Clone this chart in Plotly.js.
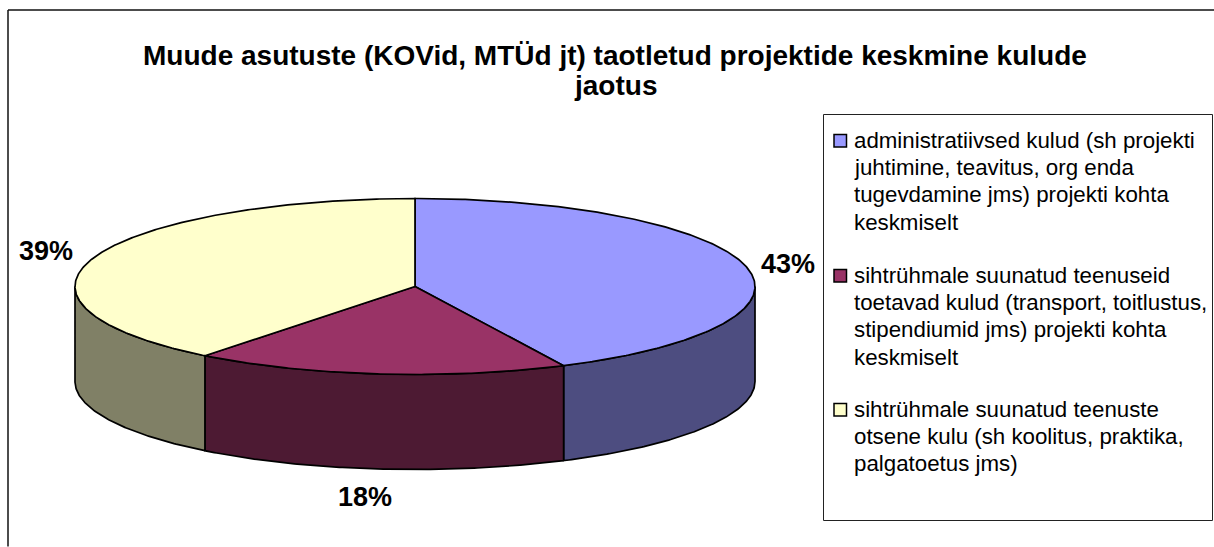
<!DOCTYPE html>
<html><head><meta charset="utf-8">
<script src="https://cdn.plot.ly/plotly-3.0.1.min.js"></script>
<style>html,body{margin:0;padding:0;background:#fff}</style>
</head><body><div id="chart" style="width:1214px;height:547px"></div>
<script>
const titleLines = ["Muude asutuste (KOVid, MTÜd jt) taotletud projektide keskmine kulude", "jaotus"];
const categories = [
  "administratiivsed kulud (sh projekti juhtimine, teavitus, org enda tugevdamine jms) projekti kohta keskmiselt",
  "sihtrühmale suunatud teenuseid toetavad kulud (transport, toitlustus, stipendiumid jms) projekti kohta keskmiselt",
  "sihtrühmale suunatud teenuste otsene kulu (sh koolitus, praktika, palgatoetus jms)"
];
const legendLines = [
  ["administratiivsed kulud (sh projekti", "juhtimine, teavitus, org enda", "tugevdamine jms) projekti kohta", "keskmiselt"],
  ["sihtrühmale suunatud teenuseid", "toetavad kulud (transport, toitlustus,", "stipendiumid jms) projekti kohta", "keskmiselt"],
  ["sihtrühmale suunatud teenuste", "otsene kulu (sh koolitus, praktika,", "palgatoetus jms)"]
];
const values = [42.8, 17.8, 39.4];
const topColors = ["#9999FF", "#993366", "#FFFFCC"];
const sideColors = ["#4D4D80", "#4D1A33", "#808066"];
const labelPos = [[788, 264], [365, 497], [46, 251]];

const cx = 415, cy = 286.5, rx = 340, ry = 88, depth = 95;
const ptx = a => cx + rx * Math.sin(a * Math.PI / 180);
const pty = a => cy - ry * Math.cos(a * Math.PI / 180);
const total = values.reduce((s, v) => s + v, 0);
let acc = 0;
const spans = values.map(v => { const s = acc; acc += v / total * 360; return [s, acc]; });
const arc = (a, b) => { const r = []; const n = Math.max(2, Math.ceil(Math.abs(b - a) * 2)); for (let i = 0; i <= n; i++) r.push(a + (b - a) * i / n); return r; };
const edge = {color: "#000", width: 1.7};
const traces = [];
spans.forEach((sp, i) => {
  const a = Math.max(sp[0], 90), b = Math.min(sp[1], 270);
  if (b <= a) return;
  const as = arc(a, b);
  const x = as.map(ptx).concat(as.slice().reverse().map(ptx));
  const y = as.map(t => pty(t) + depth).concat(as.slice().reverse().map(pty));
  x.push(x[0]); y.push(y[0]);
  traces.push({type: "scatter", mode: "lines", x, y, fill: "toself", fillcolor: sideColors[i], line: edge, hoverinfo: "skip", showlegend: false});
});
spans.forEach((sp, i) => {
  const as = arc(sp[0], sp[1]);
  const x = [cx].concat(as.map(ptx), [cx]);
  const y = [cy].concat(as.map(pty), [cy]);
  traces.push({type: "scatter", mode: "lines", x, y, fill: "toself", fillcolor: topColors[i], line: edge, name: categories[i], text: categories[i], hoverinfo: "text", showlegend: false});
});

const font = "'Liberation Sans', Arial, sans-serif";
const annotations = [];
const frame = {color: "#111", width: 1.5};
const shapes = [
  {type: "line", xref: "x", yref: "y", x0: 8, y0: 10, x1: 1214, y1: 10, line: frame},
  {type: "line", xref: "x", yref: "y", x0: 8, y0: 10, x1: 8, y1: 546.5, line: frame},
  {type: "rect", xref: "x", yref: "y", x0: 823.5, y0: 114.5, x1: 1212.5, y1: 520.5, line: {color: "#222", width: 1}, fillcolor: "#fff", layer: "below"}
];
const txt = (x, y, text, size, bold, xanchor) => annotations.push({xref: "x", yref: "y", x, y, text: bold ? "<b>" + text + "</b>" : text, showarrow: false, xanchor, yanchor: "middle", font: {family: font, size, color: "#000"}, borderpad: 0, align: xanchor});
titleLines.forEach((t, i) => txt(615, 55 + i * 30, t, 28, true, "center"));
values.forEach((v, i) => txt(labelPos[i][0], labelPos[i][1], Math.round(v / total * 100) + "%", 27, true, "center"));
const legendY = [140, 275, 409];
legendLines.forEach((lines, i) => {
  shapes.push({type: "rect", xref: "x", yref: "y", x0: 834, x1: 846.5, y0: legendY[i] - 5.5, y1: legendY[i] + 7, fillcolor: topColors[i], line: {color: "#000", width: 1.5}});
  lines.forEach((l, j) => txt(853, legendY[i] + j * 27.4, l, 22.3, false, "left"));
});

Plotly.newPlot("chart", traces, {
  width: 1214, height: 547,
  margin: {l: 0, r: 0, t: 0, b: 0},
  paper_bgcolor: "#fff", plot_bgcolor: "#fff",
  showlegend: false,
  xaxis: {range: [0, 1214], visible: false, fixedrange: true},
  yaxis: {range: [547, 0], visible: false, fixedrange: true},
  shapes, annotations
}, {displayModeBar: false});
</script></body></html>
